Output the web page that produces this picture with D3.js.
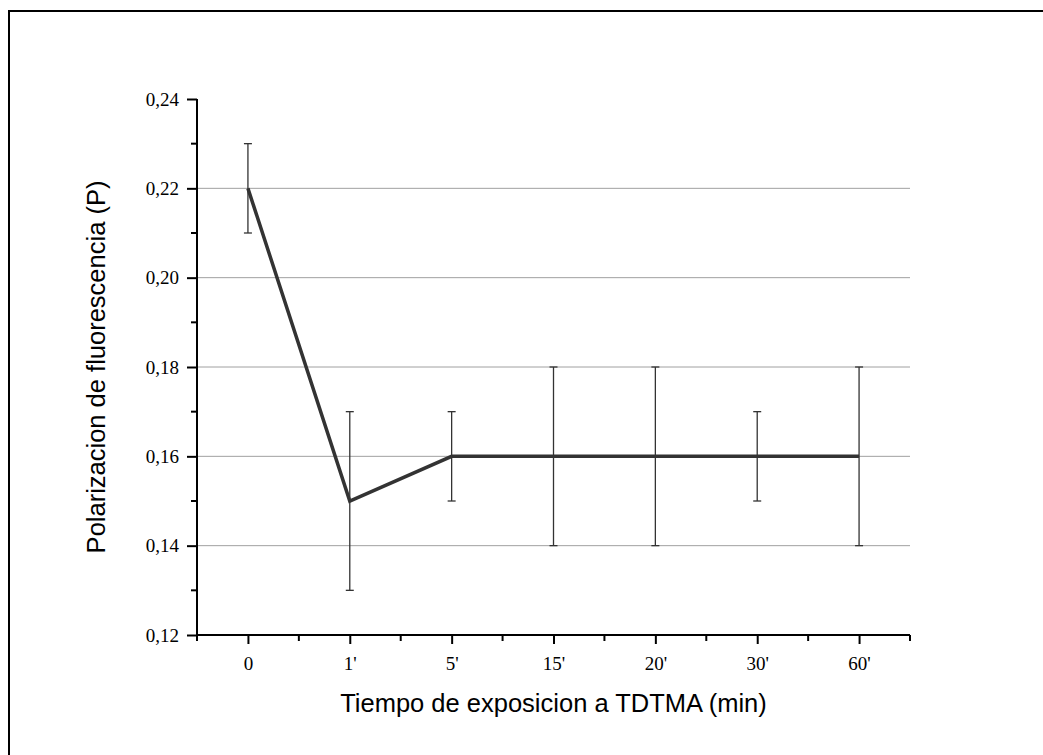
<!DOCTYPE html>
<html lang="es">
  <head>
    <meta charset="UTF-8" />
    <title>Polarizacion de fluorescencia</title>
    <style>
      body { margin: 0; background: #fff; }
      #my_dataviz { width: 1043px; height: 755px; position: relative; overflow: hidden; }
    </style>
  </head>
  <body>
    <div id="my_dataviz"></div>
    <script src="https://cdn.jsdelivr.net/npm/d3@7"></script>
    <script>
      // data
      var categories = ["0", "1'", "5'", "15'", "20'", "30'", "60'"];
      var values = [0.22, 0.15, 0.16, 0.16, 0.16, 0.16, 0.16];
      var errors = [0.01, 0.02, 0.01, 0.02, 0.02, 0.01, 0.02];
      var yTicks = [0.12, 0.14, 0.16, 0.18, 0.2, 0.22, 0.24];
      var gridTicks = [0.14, 0.16, 0.18, 0.2, 0.22];
      var yMinor = [0.13, 0.15, 0.17, 0.19, 0.21, 0.23];

      var width = 1043, height = 755;
      var plotLeft = 197, plotRight = 910, plotTop = 99, plotBottom = 635;

      var svg = d3.select("#my_dataviz")
        .append("svg")
        .attr("width", width)
        .attr("height", height);

      // outer frame (runs off the right/bottom edge)
      svg.append("rect")
        .attr("x", 9).attr("y", 11)
        .attr("width", 1100).attr("height", 800)
        .attr("fill", "none")
        .attr("stroke", "#000")
        .attr("stroke-width", 2);

      var x = d3.scaleLinear().domain([-0.5, categories.length - 0.5]).range([plotLeft, plotRight]);
      var y = d3.scaleLinear().domain([0.12, 0.24]).range([plotBottom, plotTop]);

      // grid lines
      svg.append("g").selectAll("line")
        .data(gridTicks)
        .join("line")
        .attr("x1", plotLeft).attr("x2", plotRight)
        .attr("y1", function (d) { return y(d); })
        .attr("y2", function (d) { return y(d); })
        .attr("stroke", "#a0a0a0")
        .attr("stroke-width", 1);

      // minor ticks
      svg.append("g").selectAll("line")
        .data(yMinor)
        .join("line")
        .attr("x1", plotLeft - 6).attr("x2", plotLeft)
        .attr("y1", function (d) { return y(d); })
        .attr("y2", function (d) { return y(d); })
        .attr("stroke", "#000").attr("stroke-width", 2);

      var xMinor = d3.range(-0.5, categories.length, 1);
      svg.append("g").selectAll("line")
        .data(xMinor)
        .join("line")
        .attr("x1", function (d) { return x(d); })
        .attr("x2", function (d) { return x(d); })
        .attr("y1", plotBottom).attr("y2", plotBottom + 6)
        .attr("stroke", "#000").attr("stroke-width", 2);

      // y axis
      var yAxis = svg.append("g")
        .attr("transform", "translate(" + plotLeft + ",0)")
        .call(d3.axisLeft(y).tickValues(yTicks).tickSize(10).tickPadding(8)
          .tickFormat(function (d) { return d3.format(".2f")(d).replace(".", ","); }));
      yAxis.select(".domain").attr("stroke-width", 2).attr("d", "M0," + plotTop + "V" + plotBottom);
      yAxis.selectAll(".tick line").attr("stroke-width", 2);
      yAxis.selectAll("text")
        .attr("font-family", "Liberation Serif, Times New Roman, serif")
        .attr("font-size", 19)
        .attr("fill", "#000");

      // x axis
      var xAxis = svg.append("g")
        .attr("transform", "translate(0," + plotBottom + ")")
        .call(d3.axisBottom(x).tickValues(d3.range(categories.length)).tickSize(9).tickPadding(13)
          .tickFormat(function (d) { return categories[d]; }));
      xAxis.select(".domain").attr("stroke-width", 2).attr("d", "M" + plotLeft + ",0H" + plotRight);
      xAxis.selectAll(".tick line").attr("stroke-width", 2);
      xAxis.selectAll("text")
        .attr("font-family", "Liberation Serif, Times New Roman, serif")
        .attr("font-size", 19)
        .attr("fill", "#000");

      // error bars
      var eb = svg.append("g").attr("stroke", "#333").attr("stroke-width", 1.3);
      values.forEach(function (v, i) {
        var cx = x(i), hi = y(v + errors[i]), lo = y(v - errors[i]);
        eb.append("line").attr("x1", cx).attr("x2", cx).attr("y1", hi).attr("y2", lo);
        eb.append("line").attr("x1", cx - 4).attr("x2", cx + 4).attr("y1", hi).attr("y2", hi);
        eb.append("line").attr("x1", cx - 4).attr("x2", cx + 4).attr("y1", lo).attr("y2", lo);
      });

      // main line
      var line = d3.line()
        .x(function (d, i) { return x(i); })
        .y(function (d) { return y(d); });
      svg.append("path")
        .attr("d", line(values))
        .attr("fill", "none")
        .attr("stroke", "#333")
        .attr("stroke-width", 3.5)
        .attr("stroke-linejoin", "miter");

      // axis titles
      svg.append("text")
        .attr("x", (plotLeft + plotRight) / 2)
        .attr("y", 712)
        .attr("text-anchor", "middle")
        .attr("font-family", "Liberation Sans, Arial, sans-serif")
        .attr("font-size", 25.5)
        .text("Tiempo de exposicion a TDTMA (min)");

      svg.append("text")
        .attr("transform", "translate(105," + (plotTop + plotBottom) / 2 + ") rotate(-90)")
        .attr("text-anchor", "middle")
        .attr("font-family", "Liberation Sans, Arial, sans-serif")
        .attr("font-size", 25.5)
        .text("Polarizacion de fluorescencia (P)");
    </script>
  </body>
</html>
